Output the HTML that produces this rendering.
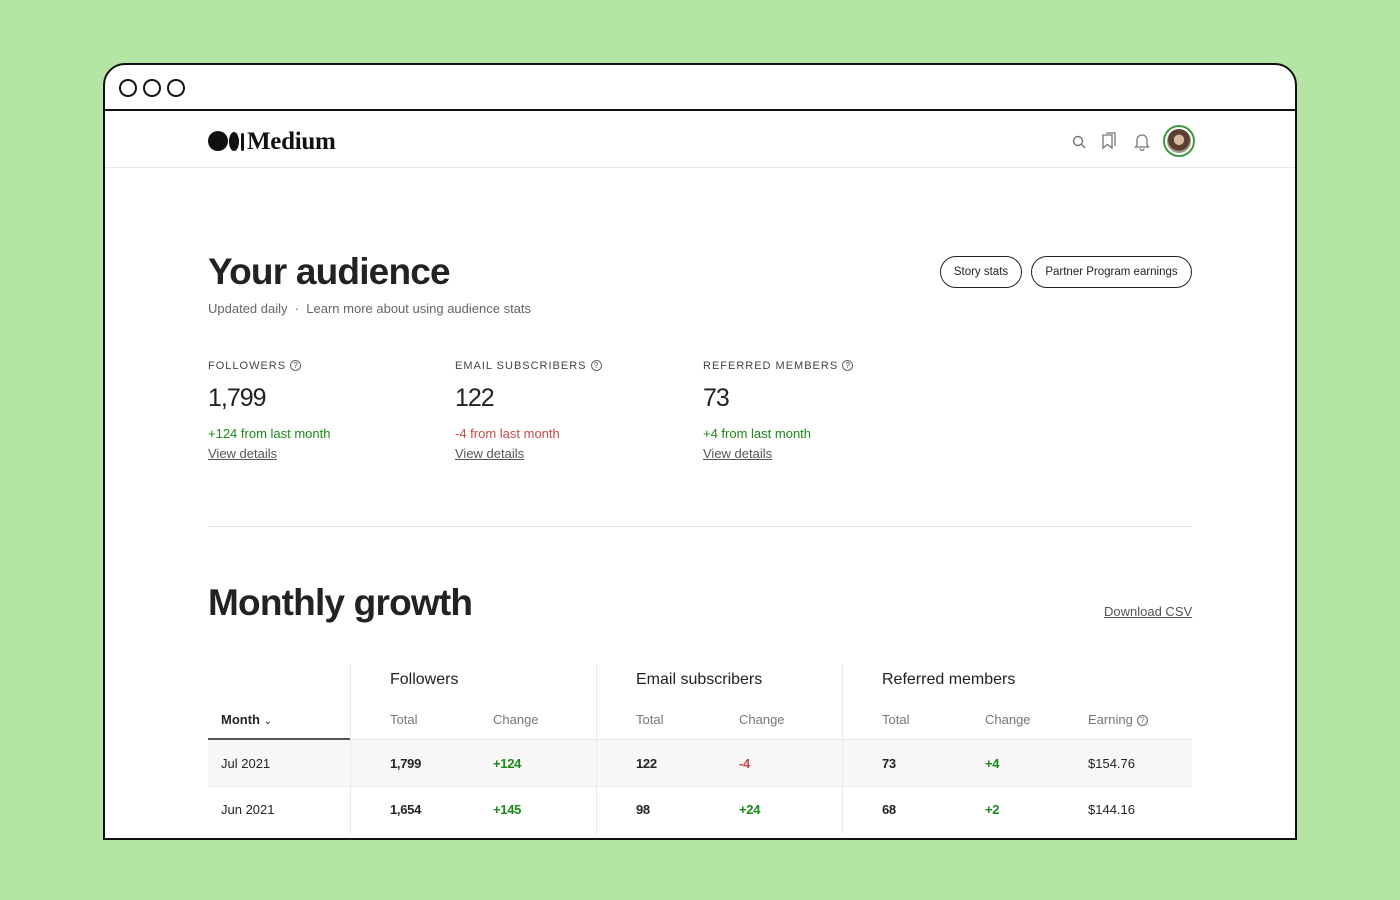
<!DOCTYPE html>
<html><head><meta charset="utf-8"><style>
*{margin:0;padding:0;box-sizing:border-box}
body{width:1400px;height:900px;background:#b4e5a5;font-family:"Liberation Sans",sans-serif;position:relative;overflow:hidden;color:#242424}
.a{position:absolute;white-space:nowrap}
#win{position:absolute;left:103px;top:63px;width:1194px;height:777px;background:#fff;border:2px solid #111;border-radius:22px 22px 0 0;overflow:hidden}
.dot{position:absolute;top:14px;width:18px;height:18px;border:2px solid #111;border-radius:50%}
.lbl{font-size:11px;letter-spacing:1px;color:#444}
.q{display:inline-block;width:11px;height:11px;border:1px solid #666;border-radius:50%;font-size:8px;text-align:center;line-height:9px;letter-spacing:0;vertical-align:1px;margin-left:4px}
.big{font-size:25px;color:#222;letter-spacing:-1px}
.g{color:#1a8917}.r{color:#c94a4a}
.link{font-size:13px;color:#555;text-decoration:underline}
.th{font-size:16px;color:#222}
.sub{font-size:13px;color:#777}
.cell{font-size:13px;font-weight:bold;letter-spacing:-0.3px}
.btn{position:absolute;top:191px;height:32px;border:1px solid #222;border-radius:16px;font-size:11.5px;line-height:30px;text-align:center}
</style></head><body>
<div id="win">
 <div class="dot" style="left:14px"></div>
 <div class="dot" style="left:38px"></div>
 <div class="dot" style="left:62px"></div>
 <div class="a" style="left:0;top:44px;width:1194px;height:2px;background:#111"></div>
 <div class="a" style="left:0;top:102px;width:1194px;height:1px;background:#e8e8e8"></div>
 <div class="a" style="left:103px;top:63px;font-family:'Liberation Serif',serif;font-size:25px;font-weight:bold;letter-spacing:-0.3px;color:#111">
  <span style="display:inline-block;width:20px;height:20px;border-radius:50%;background:#111;vertical-align:-2px"></span><span style="display:inline-block;width:10px;height:19px;border-radius:50%;background:#111;vertical-align:-2px;margin-left:1px"></span><span style="display:inline-block;width:3px;height:18px;border-radius:2px;background:#111;vertical-align:-2px;margin-left:2px;margin-right:3px"></span>Medium</div>
 <svg class="a" style="left:964px;top:67px" width="20" height="20"><circle cx="9" cy="9" r="4.5" fill="none" stroke="#777" stroke-width="1.4"/><line x1="12.3" y1="12.3" x2="16" y2="16" stroke="#777" stroke-width="1.4"/></svg>
 <svg class="a" style="left:994px;top:65px" width="20" height="22"><path d="M4 5h9v13l-4.5-3.5L4 18z" fill="none" stroke="#777" stroke-width="1.3"/><path d="M7 3h9v13" fill="none" stroke="#777" stroke-width="1.3"/></svg>
 <svg class="a" style="left:1027px;top:66px" width="20" height="20"><path d="M5 14V9a5 5 0 0 1 10 0v5l1.5 2h-13z" fill="none" stroke="#777" stroke-width="1.3"/><path d="M8 17.5a2 2 0 0 0 4 0" fill="none" stroke="#777" stroke-width="1.3"/></svg>
 <div class="a" style="left:1058px;top:60px;width:32px;height:32px;border-radius:50%;border:2px solid #3c9a3c;padding:2px"><div style="width:100%;height:100%;border-radius:50%;background:radial-gradient(circle at 50% 45%,#d8b8a0 0 28%,#5a4030 30% 60%,#a09890 62%)"></div></div>

 <div class="a" style="left:103px;top:186px;font-size:37px;font-weight:bold;letter-spacing:-0.8px;color:#222">Your audience</div>
 <div class="a" style="left:103px;top:236px;font-size:13px;color:#666">Updated daily &nbsp;·&nbsp; <span>Learn more about using audience stats</span></div>
 <div class="btn" style="left:835px;width:82px">Story stats</div>
 <div class="btn" style="left:926px;width:161px">Partner Program earnings</div>

 <div class="a lbl" style="left:103px;top:295px">FOLLOWERS<span class="q">?</span></div>
 <div class="a big" style="left:103px;top:319px">1,799</div>
 <div class="a g" style="left:103px;top:361px;font-size:13px">+124 from last month</div>
 <div class="a link" style="left:103px;top:381px">View details</div>

 <div class="a lbl" style="left:350px;top:295px">EMAIL SUBSCRIBERS<span class="q">?</span></div>
 <div class="a big" style="left:350px;top:319px">122</div>
 <div class="a r" style="left:350px;top:361px;font-size:13px">-4 from last month</div>
 <div class="a link" style="left:350px;top:381px">View details</div>

 <div class="a lbl" style="left:598px;top:295px">REFERRED MEMBERS<span class="q">?</span></div>
 <div class="a big" style="left:598px;top:319px">73</div>
 <div class="a g" style="left:598px;top:361px;font-size:13px">+4 from last month</div>
 <div class="a link" style="left:598px;top:381px">View details</div>

 <div class="a" style="left:103px;top:461px;width:984px;height:1px;background:#e6e6e6"></div>
 <div class="a" style="left:103px;top:517px;font-size:37px;font-weight:bold;letter-spacing:-0.8px;color:#222">Monthly growth</div>
 <div class="a link" style="left:999px;top:539px">Download CSV</div>

 <div class="a" style="left:103px;top:675px;width:984px;height:47px;background:#f7f7f7"></div>
 <div class="a" style="left:103px;top:721px;width:984px;height:1px;background:#ececec"></div>
 <div class="a" style="left:103px;top:674px;width:984px;height:1px;background:#e6e6e6"></div>
 <div class="a" style="left:103px;top:673px;width:142px;height:2px;background:#555"></div>
 <div class="a" style="left:245px;top:599px;width:1px;height:170px;background:#eaeaea"></div>
 <div class="a" style="left:491px;top:599px;width:1px;height:170px;background:#eaeaea"></div>
 <div class="a" style="left:737px;top:599px;width:1px;height:170px;background:#eaeaea"></div>

 <div class="a th" style="left:285px;top:606px">Followers</div>
 <div class="a th" style="left:531px;top:606px">Email subscribers</div>
 <div class="a th" style="left:777px;top:606px">Referred members</div>

 <div class="a" style="left:116px;top:647px;font-size:13px;font-weight:bold">Month <span style="font-weight:normal;font-size:10px">&#8964;</span></div>
 <div class="a sub" style="left:285px;top:647px">Total</div>
 <div class="a sub" style="left:388px;top:647px">Change</div>
 <div class="a sub" style="left:531px;top:647px">Total</div>
 <div class="a sub" style="left:634px;top:647px">Change</div>
 <div class="a sub" style="left:777px;top:647px">Total</div>
 <div class="a sub" style="left:880px;top:647px">Change</div>
 <div class="a sub" style="left:983px;top:647px">Earning<span class="q">?</span></div>

 <div>
 <div class="a" style="left:116px;top:691px;font-size:13px">Jul 2021</div>
 <div class="a cell" style="left:285px;top:691px">1,799</div>
 <div class="a cell g" style="left:388px;top:691px">+124</div>
 <div class="a cell" style="left:531px;top:691px">122</div>
 <div class="a cell r" style="left:634px;top:691px">-4</div>
 <div class="a cell" style="left:777px;top:691px">73</div>
 <div class="a cell g" style="left:880px;top:691px">+4</div>
 <div class="a" style="left:983px;top:691px;font-size:13px">$154.76</div>
 </div>
 <div>
 <div class="a" style="left:116px;top:737px;font-size:13px">Jun 2021</div>
 <div class="a cell" style="left:285px;top:737px">1,654</div>
 <div class="a cell g" style="left:388px;top:737px">+145</div>
 <div class="a cell" style="left:531px;top:737px">98</div>
 <div class="a cell g" style="left:634px;top:737px">+24</div>
 <div class="a cell" style="left:777px;top:737px">68</div>
 <div class="a cell g" style="left:880px;top:737px">+2</div>
 <div class="a" style="left:983px;top:737px;font-size:13px">$144.16</div>
 </div>
</div>
</body></html>
